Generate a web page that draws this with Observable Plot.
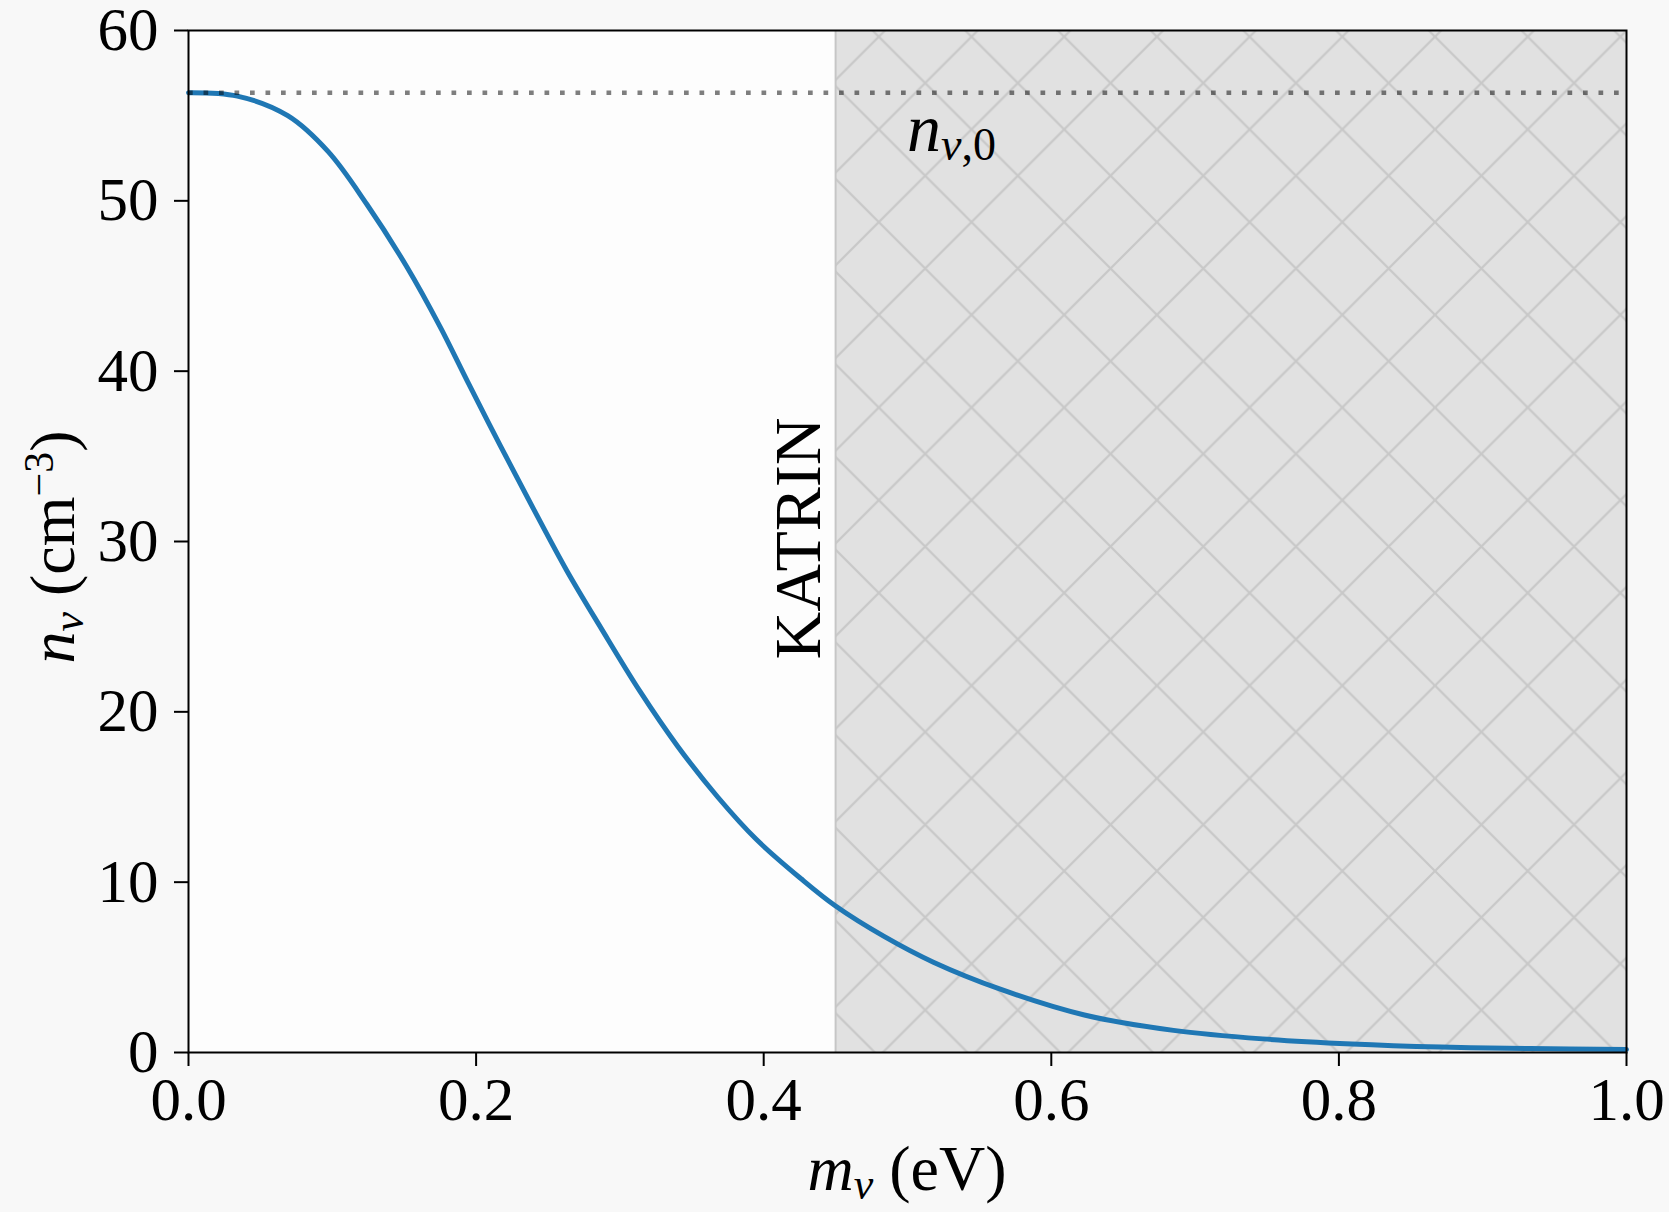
<!DOCTYPE html>
<html><head><meta charset="utf-8">
<script src="https://cdn.jsdelivr.net/npm/d3@7"></script>
<script src="https://cdn.jsdelivr.net/npm/@observablehq/plot@0.6"></script>
<style>
html,body{margin:0;padding:0;background:#f8f8f8;}
svg text{font-family:"Liberation Serif",serif;}
</style></head><body>
<svg width="0" height="0" style="position:absolute">
<defs>
<pattern id="hatch" patternUnits="userSpaceOnUse" x="44.5" y="36.7" width="92.7" height="92.7">
<rect width="92.7" height="92.7" fill="#e1e1e1"/>
<path d="M-10,-10L102.7,102.7M-10,102.7L102.7,-10" stroke="#c8c8c8" stroke-width="2.2" fill="none"/>
</pattern>
</defs></svg>
<div id="chart"></div>
<script>
// neutrino mass (eV)
const mass = [0, 0.034, 0.069, 0.097, 0.124, 0.152, 0.175, 0.194, 0.217, 0.240, 0.263, 0.287, 0.314, 0.340, 0.368, 0.395, 0.426, 0.450, 0.484, 0.518, 0.565, 0.623, 0.685, 0.747, 0.809, 0.871, 0.933, 1.000];
// number density (cm^-3)
const density = [56.35, 56.15, 55.0, 52.9, 49.8, 46.1, 42.6, 39.4, 35.6, 31.9, 28.3, 24.9, 21.2, 18.0, 15.0, 12.5, 10.2, 8.6, 6.8, 5.3, 3.7, 2.2, 1.3, 0.8, 0.5, 0.32, 0.23, 0.18];
const nu0 = 56.35;          // n_{nu,0}
const katrinBound = 0.45;   // KATRIN exclusion starts here
const xTicks = [0, 0.2, 0.4, 0.6, 0.8, 1.0];
const yTicks = [0, 10, 20, 30, 40, 50, 60];
const nu0Label = {m: 0.5, n: 53};

const data = mass.map((m, i) => ({m, n: density[i]}));

const plot = Plot.plot({
  width: 1669, height: 1212,
  marginLeft: 188, marginRight: 43, marginTop: 30, marginBottom: 160,
  x: {domain: [0, 1]},
  y: {domain: [0, 60]},
  style: {background: "transparent", color: "#000", fontFamily: "Liberation Serif"},
  marks: [
    Plot.frame({fill: "#fdfdfd", stroke: "none"}),
    Plot.rect([{x1: katrinBound, x2: 1, y1: 0, y2: 60}], {x1: "x1", x2: "x2", y1: "y1", y2: "y2", fill: "url(#hatch)"}),
    Plot.ruleX([katrinBound], {stroke: "#c6c6c6", strokeWidth: 2}),
    Plot.line(data, {x: "m", y: "n", stroke: "#1f77b4", strokeWidth: 5, curve: "catmull-rom"}),
    Plot.ruleY([nu0], {stroke: "#000", strokeOpacity: 0.5, strokeWidth: 4.5, strokeDasharray: "4.7,10.8"}),
    Plot.frame({stroke: "#000", strokeWidth: 2, fill: "none"}),
    Plot.axisX(xTicks, {tickSize: 14, tickPadding: 10, fontSize: 61, strokeWidth: 2, tickFormat: d => d.toFixed(1), label: null}),
    Plot.axisY(yTicks, {tickSize: 14, tickPadding: 16, fontSize: 61, strokeWidth: 2, tickFormat: d => String(d), label: null}),
    Plot.text(["KATRIN"], {x: katrinBound, y: 30, text: d => d, rotate: -90, dx: -37, dy: -3, fontSize: 66, textAnchor: "middle", lineAnchor: "middle"})
  ]
});
document.getElementById("chart").appendChild(plot);

const svg = d3.select(plot);
const sx = plot.scale("x"), sy = plot.scale("y");

// n_{nu,0} annotation
const t0 = svg.append("text").attr("x", sx.apply(nu0Label.m)).attr("y", sy.apply(nu0Label.n) + 2)
  .attr("font-size", 68).attr("text-anchor", "start");
t0.append("tspan").attr("font-style", "italic").text("n");
t0.append("tspan").attr("font-style", "italic").attr("font-size", 46).attr("dy", 9).text("ν");
t0.append("tspan").attr("font-size", 46).text(",0");

// x axis label
const cx = (sx.apply(0) + sx.apply(1)) / 2;
const tx = svg.append("text").attr("x", cx).attr("y", 1190).attr("font-size", 64).attr("text-anchor", "middle");
tx.append("tspan").attr("font-style", "italic").text("m");
tx.append("tspan").attr("font-style", "italic").attr("font-size", 44).attr("dy", 9).text("ν");
tx.append("tspan").attr("dy", -9).text(" (eV)");

// y axis label
const cy = (sy.apply(0) + sy.apply(60)) / 2;
const ty = svg.append("text").attr("transform", `translate(74,${cy + 6}) rotate(-90)`).attr("font-size", 64).attr("text-anchor", "middle");
ty.append("tspan").attr("font-style", "italic").text("n");
ty.append("tspan").attr("font-style", "italic").attr("font-size", 44).attr("dy", 9).text("ν");
ty.append("tspan").attr("dy", -9).text(" (cm");
ty.append("tspan").attr("font-size", 42).attr("dy", -21).text("−3");
ty.append("tspan").attr("dy", 21).text(")");
</script>
</body></html>
